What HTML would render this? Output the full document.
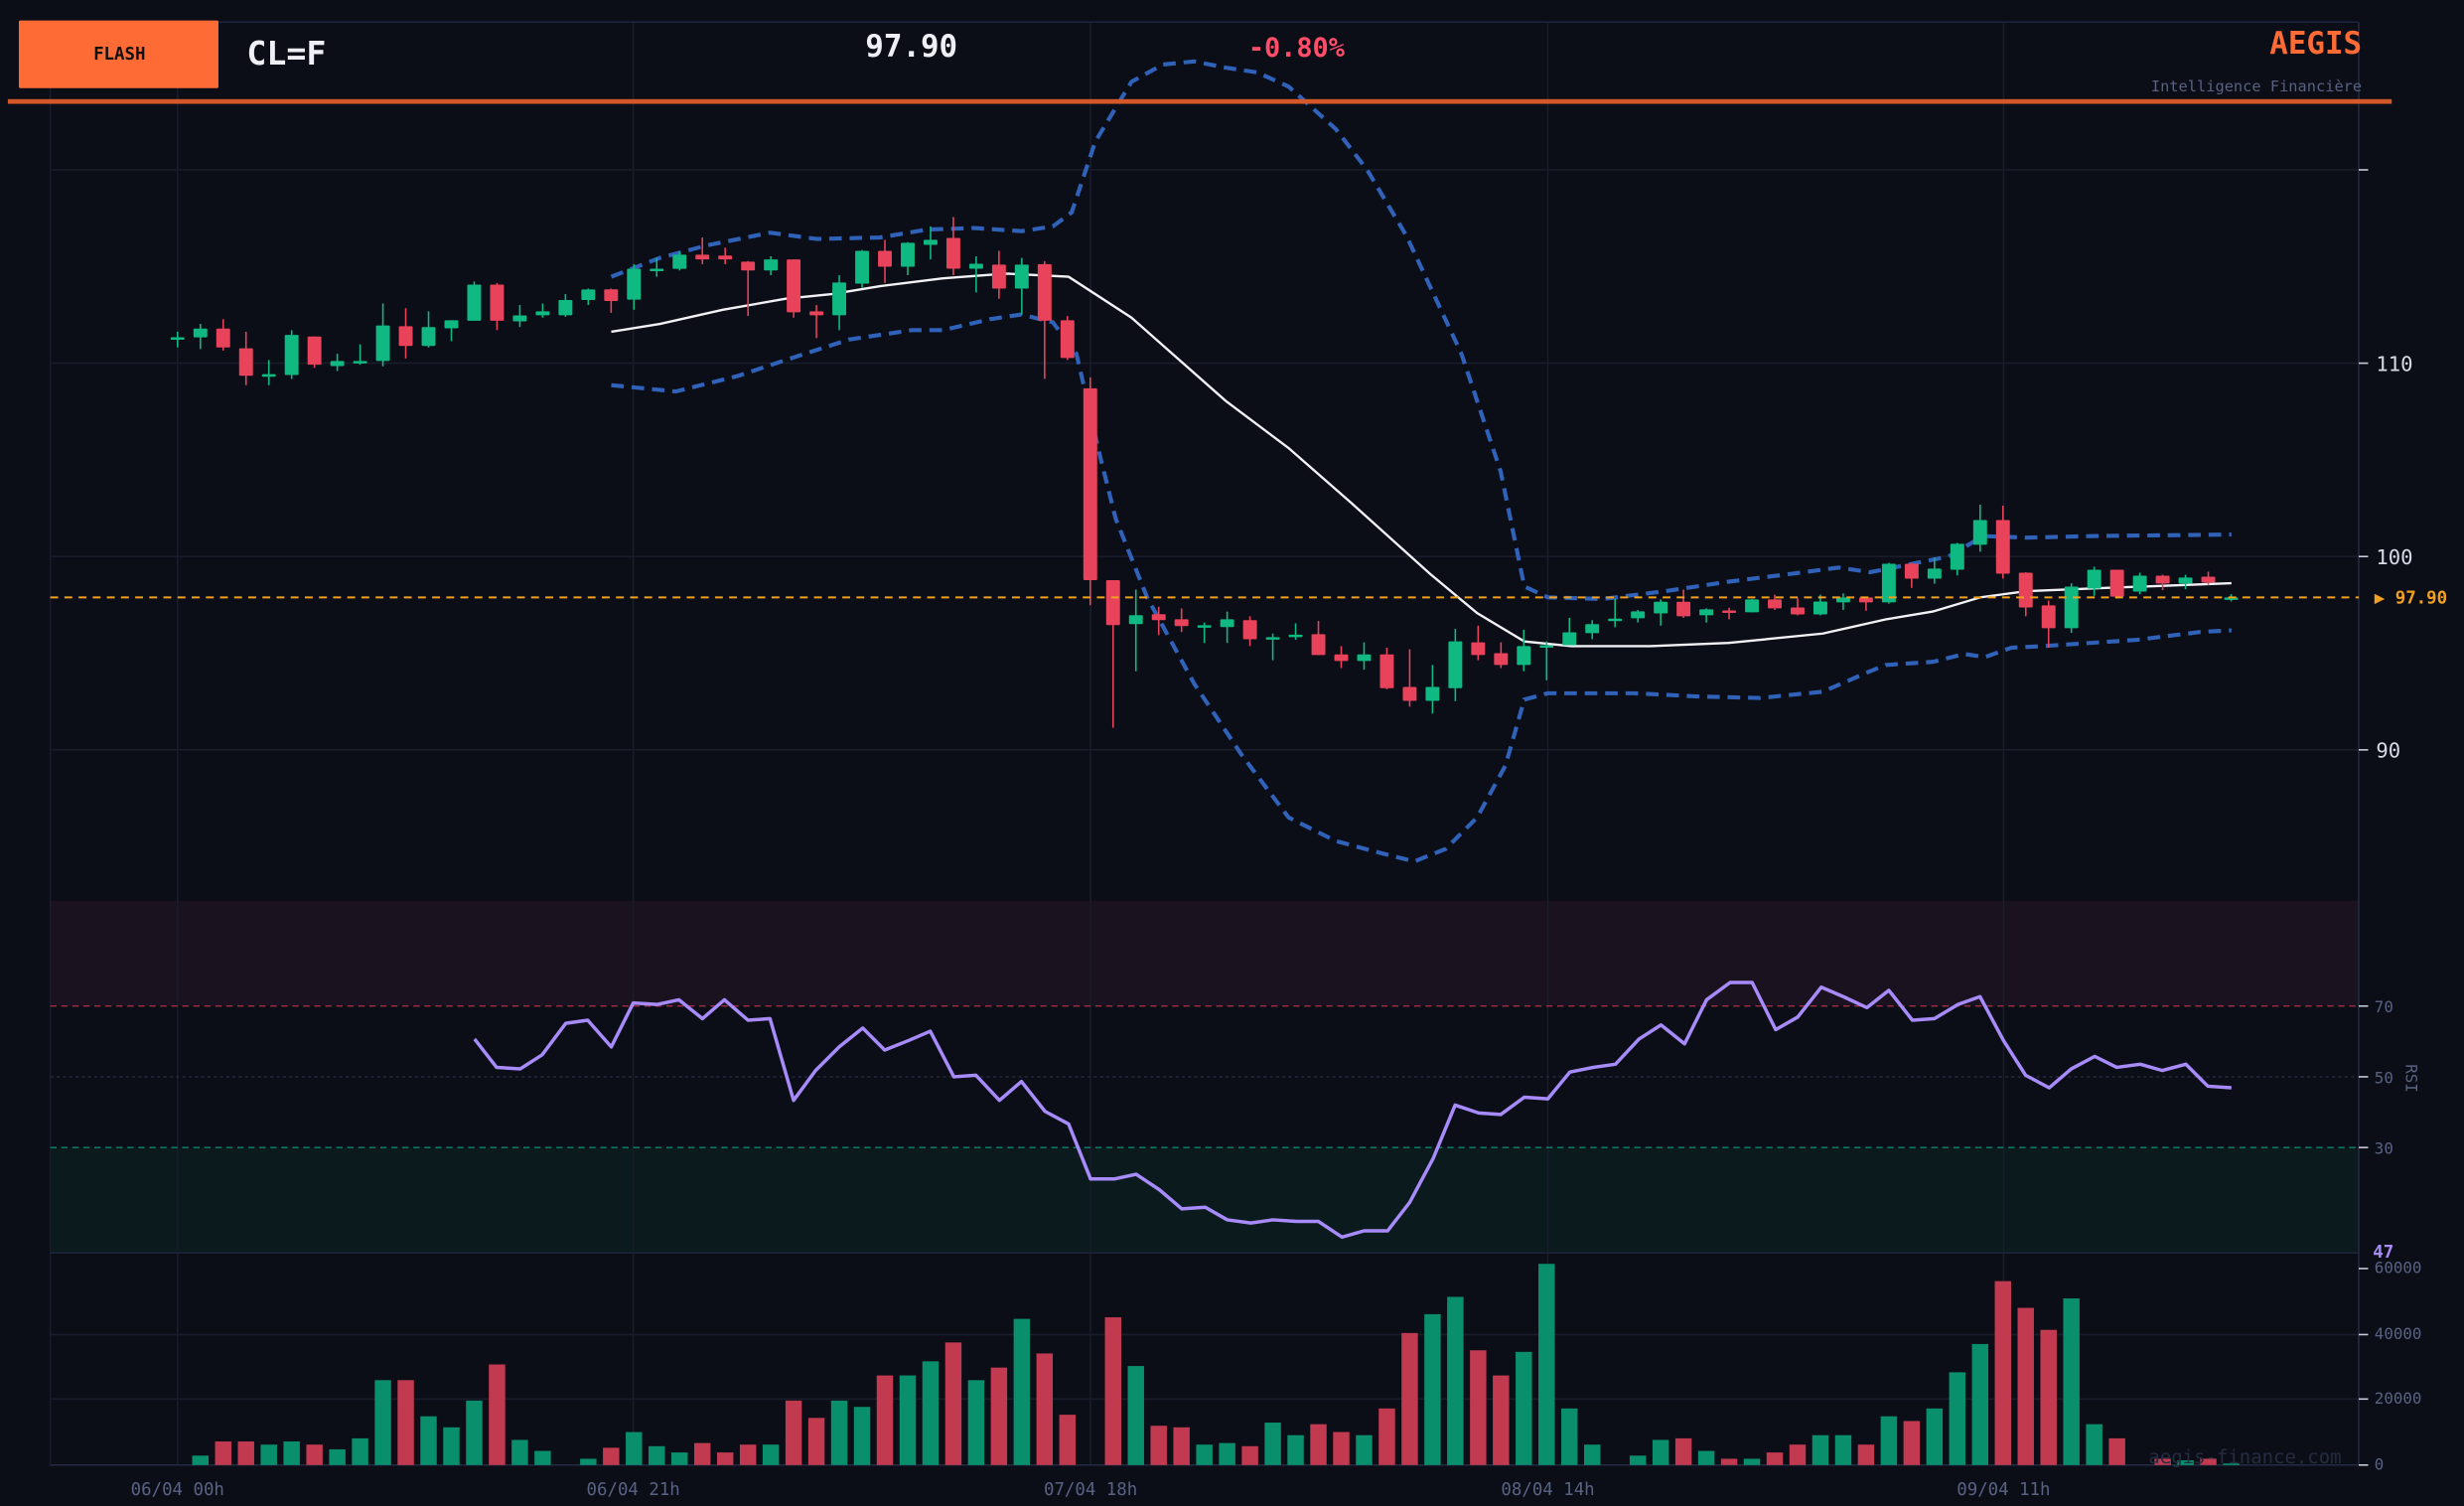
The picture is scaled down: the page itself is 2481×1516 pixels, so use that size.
<!DOCTYPE html>
<html><head><meta charset="utf-8"><style>
html,body{margin:0;padding:0;background:#0b0e17;overflow:hidden}
svg{display:block}
text{font-family:"DejaVu Sans Mono","Liberation Mono",monospace}
</style></head><body>
<svg id="s" width="2481" height="1516" viewBox="0 0 1568 958" xmlns="http://www.w3.org/2000/svg">
<rect width="1568" height="958" fill="#0b0e17"/>
<rect x="32" y="573" width="1469" height="67" fill="#1b121f"/>
<rect x="32" y="730" width="1469" height="67" fill="#0b1a1d"/>
<g id="grid" stroke="#191c2a" stroke-width="1"></g>
<line x1="32" y1="14" x2="1501" y2="14" stroke="#1e2540"/>
<line x1="1501" y1="14" x2="1501" y2="932" stroke="#232a42"/>
<line x1="32" y1="640" x2="1501" y2="640" stroke="#b0304a" stroke-dasharray="4 3" stroke-width="0.8"/>
<line x1="32" y1="685" x2="1501" y2="685" stroke="#2a2d40" stroke-dasharray="2 2" stroke-width="0.8"/>
<line x1="32" y1="730" x2="1501" y2="730" stroke="#10907a" stroke-dasharray="4 3" stroke-width="0.8"/>
<line x1="32" y1="797" x2="1501" y2="797" stroke="#1e2438"/>
<line x1="32" y1="932" x2="1501" y2="932" stroke="#232a42"/>
<g id="vol"></g>
<g id="bands"></g>
<g id="candles"></g>
<line x1="32" y1="380" x2="1501" y2="380" stroke="#f0a020" stroke-dasharray="5 4" stroke-width="1.3"/>
<g id="rsi"></g>
<rect x="12" y="13" width="127" height="43" fill="#ff6b35" rx="1"/>
<text x="76" y="38" font-size="11" font-weight="bold" fill="#111" text-anchor="middle">FLASH</text>
<text x="157" y="41" font-size="21" font-weight="bold" fill="#eef0f6">CL=F</text>
<text x="580" y="36" font-size="19.5" font-weight="bold" fill="#eef0f6" text-anchor="middle">97.90</text>
<text x="825" y="36" font-size="17" font-weight="bold" fill="#ff4d6a" text-anchor="middle">-0.80%</text>
<text x="1503" y="34" font-size="19.5" font-weight="bold" fill="#ff6b35" text-anchor="end">AEGIS</text>
<text x="1503" y="58" font-size="9.7" fill="#5a6080" text-anchor="end">Intelligence Financière</text>
<rect x="5" y="63" width="1517" height="3" fill="#d4582a"/>
<g font-size="13" fill="#d8dce8">
<line x1="1501" y1="108" x2="1507" y2="108" stroke="#c8ccd8"/>
<line x1="1501" y1="231" x2="1507" y2="231" stroke="#c8ccd8"/><text x="1512" y="236">110</text>
<line x1="1501" y1="354" x2="1507" y2="354" stroke="#c8ccd8"/><text x="1512" y="359">100</text>
<line x1="1501" y1="477" x2="1507" y2="477" stroke="#c8ccd8"/><text x="1512" y="482">90</text>
</g>
<text x="1511" y="384" font-size="11" font-weight="bold" fill="#f0a020">▶ 97.90</text>
<g font-size="10" fill="#5a6284">
<line x1="1501" y1="640" x2="1507" y2="640" stroke="#c8ccd8"/><text x="1511" y="644">70</text>
<line x1="1501" y1="685" x2="1507" y2="685" stroke="#c8ccd8"/><text x="1511" y="689">50</text>
<line x1="1501" y1="730" x2="1507" y2="730" stroke="#c8ccd8"/><text x="1511" y="734">30</text>
<text x="1531" y="686" transform="rotate(90 1531 686)" text-anchor="middle" font-size="10">RSI</text>
<line x1="1501" y1="807" x2="1507" y2="807" stroke="#c8ccd8"/><text x="1511" y="810">60000</text>
<line x1="1501" y1="849" x2="1507" y2="849" stroke="#c8ccd8"/><text x="1511" y="852">40000</text>
<line x1="1501" y1="890" x2="1507" y2="890" stroke="#c8ccd8"/><text x="1511" y="893">20000</text>
<line x1="1501" y1="932" x2="1507" y2="932" stroke="#c8ccd8"/><text x="1511" y="935">0</text>
</g>
<text x="1510" y="800" font-size="11" font-weight="bold" fill="#a78bfa">47</text>
<g font-size="11" fill="#5a6284" text-anchor="middle">
<text x="113" y="951">06/04 00h</text><text x="403" y="951">06/04 21h</text><text x="694" y="951">07/04 18h</text><text x="985" y="951">08/04 14h</text><text x="1275" y="951">09/04 11h</text>
</g>
<text x="1490" y="931" font-size="12" fill="#262c40" text-anchor="end">aegis-finance.com</text>
</svg>
<script>
var NS="http://www.w3.org/2000/svg";
function el(p,t,a){var e=document.createElementNS(NS,t);for(var k in a)e.setAttribute(k,a[k]);document.getElementById(p).appendChild(e);return e;}
[113,403,694,985,1275].forEach(function(x){el("grid","line",{x1:x,y1:14,x2:x,y2:932});});
[108,231,354,477,849,890].forEach(function(y){el("grid","line",{x1:32,y1:y,x2:1501,y2:y});});
el("grid","line",{x1:32,y1:14,x2:32,y2:932});
var G="#10b981",R="#e8435a";
var C=[
[214.5,214.5,211,221,1],[214.6,209,206,222,1],[209,221,203,223,0],[221.5,239,211,245,0],[238,238,229,245,1],
[238.5,213,210,241,1],[214,232,214,234,0],[232.8,229.6,225,236,1],[229.6,229.6,219,232,1],[229.6,207,193,233,1],
[207.5,220,196,228,0],[220,208,198,221,1],[208.8,203.7,203.7,217,1],[204,181,179,204,1],[181,204,180,210,0],
[204.4,200.6,194,208,1],[200.5,198,193,202,1],[200.5,190.8,187,201.5,1],[190.8,184.1,183.5,194,1],[184,191.4,183.5,199,0],
[190.6,170.9,168,197,1],[170.9,170.9,164,176,1],[171,162,160,172,1],[162,165,151,168,0],[162.5,165,157.5,168,0],
[166.4,172,166,201,0],[172,165,163,175,1],[165,198.6,165,202,0],[198,200.5,194,215,0],[200.5,179.7,175,210,1],
[180.4,159.5,159,183,1],[159.5,169.6,152.6,180,0],[169.6,154.4,154,175,1],[155.7,152.5,144,165,1],[151.3,170.9,138,175,0],
[170.9,167.7,163,186,1],[168.3,183.5,159.5,190,0],[183.5,168.3,164,200,1],[168,204,166,241,0],[203.7,227.7,201,229,0],
[247,369,240,385,0],[369,397.6,369,463,0],[397,391.3,375,427,1],[390.7,394.5,386,404,0],[393.9,398.3,387,402,0],
[397.7,397.7,396,409,1],[398.9,393.9,389,409,1],[394.5,406.6,392,411,0],[405.3,405.3,403,420,1],[405.3,403.7,396.5,407,1],
[403.4,416.7,395,416.7,0],[416.3,420.5,411,425,0],[420.5,416.3,408.6,426,1],[416.3,437.8,412,438.5,0],[437,445.8,413,449.5,0],
[445.8,437,423,453.9,1],[437.8,408,400,446,1],[408.6,416.7,398,420,0],[415.5,423,408.6,425,0],[423,411,400.6,427,1],
[410.4,410.4,408,432.7,1],[410.4,402.2,393,410.4,1],[402.8,397,394.5,406.6,1],[393.5,393.5,381,399,1],[393.3,388.9,388,396,1],
[390.2,382.8,381.3,398,1],[382.8,392,375,393,0],[391.4,387.6,387,396,1],[388.3,388.3,386.5,394,0],[389.5,381.3,381,389.5,1],
[381.3,387,378.3,388,0],[386.4,390.8,380.5,391.4,0],[390.8,382.6,378.3,391.4,1],[383.2,380,377.5,388,1],[380,383.2,380,388.5,0],
[383.2,358.6,358,384,1],[358.6,368.1,358,374,0],[368.1,361.7,354.7,371.3,1],[362.4,345.9,345.3,366,1],[346.5,330.8,321,351,1],
[330.8,364.9,321.6,368,0],[364.3,386.4,364,392,0],[385.1,399.6,382,412,0],[399.6,373.1,371,402.6,1],[374.4,362.4,360.5,379,1],
[362.4,379.5,362.4,380.8,0],[376.3,366.2,364.3,378,1],[366.2,371.2,365.6,375.4,0],[371.2,367.4,365.6,374.8,1],[366.8,370.6,363.6,372,0],
[380,380,378,382.5,1]];
function X(i){return 113+i*14.52;}
C.forEach(function(c,i){var x=X(i),col=c[4]?G:R;
el("candles","line",{x1:x,y1:c[2],x2:x,y2:c[3],stroke:col,"stroke-width":1});
var t=Math.min(c[0],c[1]),h=Math.max(Math.abs(c[0]-c[1]),1.6);
el("candles","rect",{x:x-4.4,y:t,width:8.8,height:h,fill:col,rx:0.6});});
var V=[932,926,917,917,919,917,919,922,915,878,878,901,908,891,868,916,923,932,928,921,911,920,924,918,924,919,919,891,902,891,895,875,875,866,854,878,870,839,861,900,932,838,869,907,908,919,918,920,905,913,906,911,913,896,848,836,825,859,875,860,804,896,919,932,926,916,915,923,928,928,924,919,913,913,919,901,904,896,873,855,815,832,846,826,906,915,932,928,929,928,931];
V.forEach(function(y,i){if(y>=931.5)return;var c=C[i]?C[i][4]:1;
el("vol","rect",{x:X(i)-5.2,y:y,width:10.4,height:932-y,fill:c?"#0a8f6c":"#c23a50"});});
function pl(g,pts,attrs){attrs.points=pts.map(function(p){return p.join(",")}).join(" ");attrs.fill="none";el(g,"polyline",attrs);}
var SMA=[[389,211],[420,206],[460,197],[500,190],[530,187],[560,182],[600,177],[640,174],[680,176],[720,202],[780,255],[820,285],[860,320],[910,365],[940,390],[970,408],[1000,411],[1050,411],[1100,409],[1160,403],[1200,394],[1230,389],[1260,380],[1290,376],[1340,374],[1420,371]];
var UP=[[389,176],[420,164],[450,156],[490,148],[520,152],[560,151],[590,146],[620,145],[650,147],[670,144],[682,135],[697,90],[720,52],[740,41],[760,39],[780,43],[800,46],[820,55],[850,82],[870,108],[895,150],[930,225],[955,300],[970,373],[985,380],[1020,381],[1060,376],[1100,370],[1140,365],[1170,361],[1190,364],[1210,360],[1240,354],[1262,341],[1290,342],[1330,341],[1420,340]];
var LO=[[389,245],[430,249],[470,239],[500,229],[540,216],[580,210],[600,210],[630,203],[650,200],[670,205],[685,225],[700,290],[710,330],[730,380],[760,435],[790,480],[820,520],[850,535],[880,543],[900,548],[920,540],[940,520],[958,487],[970,445],[985,441],[1040,441],[1080,443],[1120,444],[1160,440],[1190,427],[1200,423],[1230,421],[1250,416],[1263,418],[1280,412],[1300,411],[1330,409],[1360,407],[1400,402],[1420,401]];
pl("bands",UP,{stroke:"#2f62b8","stroke-width":2.6,"stroke-dasharray":"8 5"});
pl("bands",LO,{stroke:"#2f62b8","stroke-width":2.6,"stroke-dasharray":"8 5"});
pl("bands",SMA,{stroke:"#f2f2f6","stroke-width":1.5});
var RS=[[302,661],[316,679],[331,680],[345,671],[360,651],[374,649],[389,666],[403,638],[418,639],[432,636],[447,648],[461,636],[476,649],[490,648],[505,700],[519,681],[534,666],[549,654],[563,668],[578,662],[592,656],[607,685],[621,684],[636,700],[650,688],[665,707],[680,715],[694,750],[709,750],[723,747],[738,757],[752,769],[767,768],[781,776],[796,778],[810,776],[825,777],[839,777],[854,787],[868,783],[883,783],[897,765],[912,737],[926,703],[941,708],[955,709],[970,698],[985,699],[999,682],[1014,679],[1028,677],[1043,661],[1057,652],[1072,664],[1086,636],[1101,625],[1115,625],[1130,655],[1144,647],[1159,628],[1173,634],[1188,641],[1202,630],[1217,649],[1231,648],[1246,639],[1260,634],[1275,662],[1289,684],[1304,692],[1318,680],[1333,672],[1347,679],[1362,677],[1376,681],[1391,677],[1405,691],[1420,692]];
pl("rsi",RS,{stroke:"#a78bfa","stroke-width":2.2,"stroke-linejoin":"round"});
</script>
</body></html>
